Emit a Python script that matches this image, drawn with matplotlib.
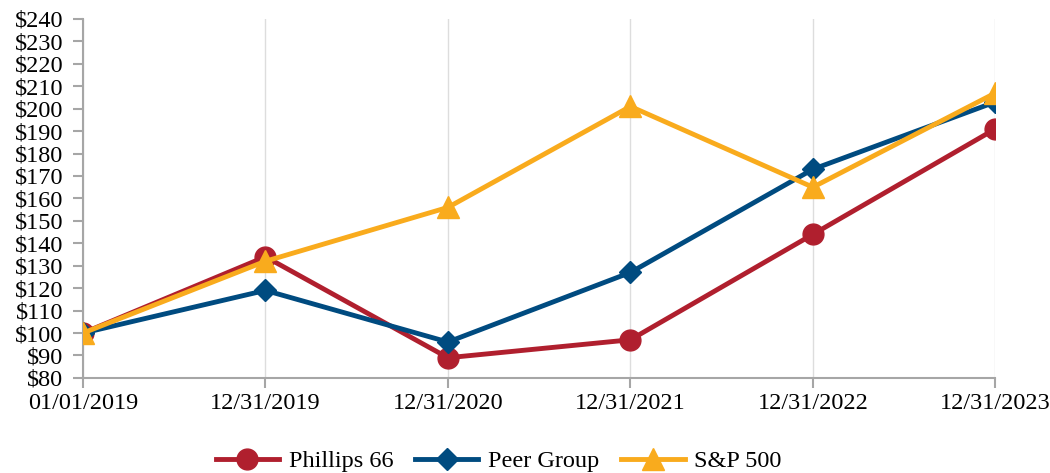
import matplotlib
matplotlib.use("Agg")
import matplotlib.pyplot as plt

plt.rcParams['font.family'] = ['Liberation Serif', 'DejaVu Serif']

dates = ['01/01/2019', '12/31/2019', '12/31/2020', '12/31/2021', '12/31/2022', '12/31/2023']
phillips = [100, 134, 89, 97, 144, 191]
peer = [100, 119, 96, 127, 173, 203]
sp500 = [100, 132, 156, 201, 165, 207]
yticks = list(range(80, 241, 10))

fig = plt.figure(figsize=(10.5, 4.73), dpi=100)
ax = fig.add_axes([0.079, 0.201, 0.869, 0.759])

x = range(len(dates))
ax.plot(x, phillips, color='#B01F2E', lw=3.5, marker='o', ms=15, label='Phillips 66', zorder=3)
ax.plot(x, peer, color='#004B80', lw=3.5, marker='D', ms=11.5, label='Peer Group', zorder=4)
ax.plot(x, sp500, color='#F9AB1D', lw=3.5, marker='^', ms=16, label='S&P 500', zorder=5)

ax.set_xlim(0, len(dates) - 1)
ax.set_ylim(80, 240)
ax.set_xticks(list(x))
ax.set_xticklabels(dates)
ax.set_yticks(yticks)
ax.set_yticklabels(['$%d' % v for v in yticks])
ax.xaxis.grid(True, color='#DDDDDD', lw=1)
ax.set_axisbelow(True)

for s in ['top', 'right']:
    ax.spines[s].set_visible(False)
for s in ['left', 'bottom']:
    ax.spines[s].set_color('#A6A6A6')
    ax.spines[s].set_linewidth(1.5)
ax.tick_params(axis='both', colors='#A6A6A6', width=1.5, length=7, labelsize=17.5, labelcolor='black')
ax.tick_params(axis='x', pad=4)
ax.tick_params(axis='y', pad=7)

fig.legend(loc='lower center', bbox_to_anchor=(0.475, -0.045), ncol=3, frameon=False,
           fontsize=17.5, handlelength=2.6, columnspacing=0.9, handletextpad=0.4)

fig.savefig('out.png', dpi=100)
